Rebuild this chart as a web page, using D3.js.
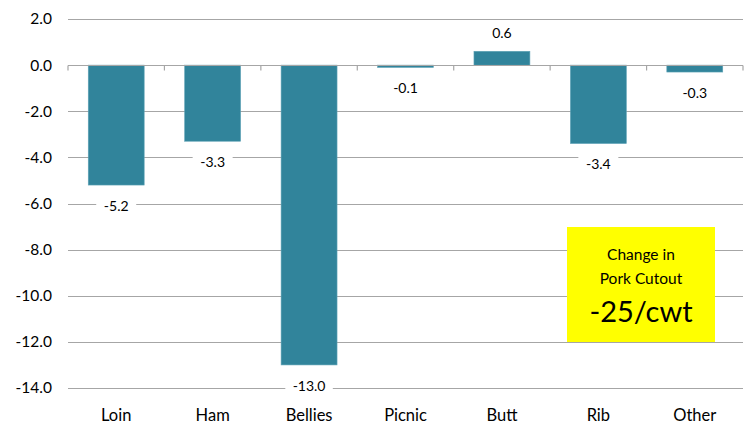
<!DOCTYPE html>
<html>
<head>
<meta charset="utf-8">
<script src="https://cdn.jsdelivr.net/npm/d3@7"></script>
<style>
  body { margin: 0; background: #fff; }
  svg { display: block; font-family: Lato, "Open Sans", sans-serif; }
</style>
</head>
<body>
<svg id="chart" width="749" height="427"></svg>
<script>
// Pork cutout primal value changes ($/cwt)
const categories = ["Loin", "Ham", "Bellies", "Picnic", "Butt", "Rib", "Other"];
const changes = [-5.2, -3.3, -13.0, -0.1, 0.6, -3.4, -0.3];
const yTicks = [2, 0, -2, -4, -6, -8, -10, -12, -14];
const noteLines = ["Change in", "Pork Cutout"];
const noteValue = "-25/cwt";

// one decimal, plain hyphen for negatives
const fmt = d3.formatLocale({ decimal: ".", thousands: ",", grouping: [3], currency: ["$", ""], minus: "-" }).format(".1f");

const svg = d3.select("#chart");
const margin = { left: 68, right: 6, top: 19, bottom: 39 };
const width = 749, height = 427;

const x = d3.scaleBand()
  .domain(categories)
  .range([margin.left, width - margin.right])
  .paddingInner(0.42)
  .paddingOuter(0.21);

const y = d3.scaleLinear()
  .domain([-14, 2])
  .range([height - margin.bottom, margin.top]);

// Horizontal gridlines
svg.append("g")
  .selectAll("line")
  .data(yTicks.filter(d => d !== 0))
  .join("line")
  .attr("x1", margin.left)
  .attr("x2", width - margin.right)
  .attr("y1", d => Math.round(y(d)) + 0.5)
  .attr("y2", d => Math.round(y(d)) + 0.5)
  .attr("stroke", "#a6a6a6")
  .attr("stroke-width", 1.2);

// Y axis labels
svg.append("g")
  .selectAll("text")
  .data(yTicks)
  .join("text")
  .attr("x", 52)
  .attr("y", d => y(d))
  .attr("dy", "0.35em")
  .attr("text-anchor", "end")
  .attr("font-size", 15.5)
  .attr("fill", "#000")
  .text(d => fmt(d));

// Bars
svg.append("g")
  .selectAll("rect")
  .data(changes)
  .join("rect")
  .attr("x", (d, i) => x(categories[i]))
  .attr("width", x.bandwidth())
  .attr("y", d => y(Math.max(0, d)))
  .attr("height", d => Math.abs(y(d) - y(0)))
  .attr("fill", "#31849b")
  .attr("stroke", "#5fa3b6")
  .attr("stroke-width", 0.6);

// Zero axis line with category tick marks
const zeroY = Math.round(y(0)) + 0.5;
const boundaries = d3.range(categories.length + 1).map(i => margin.left + i * (width - margin.right - margin.left) / categories.length);
const axisG = svg.append("g").attr("stroke", "#a6a6a6").attr("stroke-width", 1.2);
axisG.append("line")
  .attr("x1", margin.left).attr("x2", width - margin.right)
  .attr("y1", zeroY).attr("y2", zeroY);
axisG.selectAll("line.tick")
  .data(boundaries)
  .join("line")
  .attr("class", "tick")
  .attr("x1", d => d).attr("x2", d => d)
  .attr("y1", zeroY).attr("y2", zeroY + 5);

// Value labels with white backgrounds
const labelG = svg.append("g");
changes.forEach((d, i) => {
  const cx = x(categories[i]) + x.bandwidth() / 2;
  const cy = d >= 0 ? y(d) - 18 : y(d) + 21;
  const txt = fmt(d);
  const w = txt.length * 7.5 + 10;
  labelG.append("rect")
    .attr("x", cx - w / 2).attr("y", cy - 10)
    .attr("width", w).attr("height", 20)
    .attr("fill", "#fff");
  labelG.append("text")
    .attr("x", cx).attr("y", cy)
    .attr("dy", "0.35em")
    .attr("text-anchor", "middle")
    .attr("font-size", 14)
    .attr("fill", "#000")
    .text(txt);
});

// Category labels
svg.append("g")
  .selectAll("text")
  .data(categories)
  .join("text")
  .attr("x", d => x(d) + x.bandwidth() / 2)
  .attr("y", 415)
  .attr("dy", "0.35em")
  .attr("text-anchor", "middle")
  .attr("font-size", 16.5)
  .attr("fill", "#000")
  .text(d => d);

// Summary callout box
const note = svg.append("g");
note.append("rect")
  .attr("x", 567).attr("y", 227)
  .attr("width", 148).attr("height", 115)
  .attr("fill", "#ffff00");
note.selectAll("text.line")
  .data(noteLines)
  .join("text")
  .attr("class", "line")
  .attr("x", 641)
  .attr("y", (d, i) => 255 + i * 24)
  .attr("dy", "0.35em")
  .attr("text-anchor", "middle")
  .attr("font-size", 15.5)
  .attr("fill", "#000")
  .text(d => d);
note.append("text")
  .attr("x", 641).attr("y", 312)
  .attr("dy", "0.35em")
  .attr("text-anchor", "middle")
  .attr("font-size", 29)
  .attr("fill", "#000")
  .text(noteValue);
</script>
</body>
</html>
